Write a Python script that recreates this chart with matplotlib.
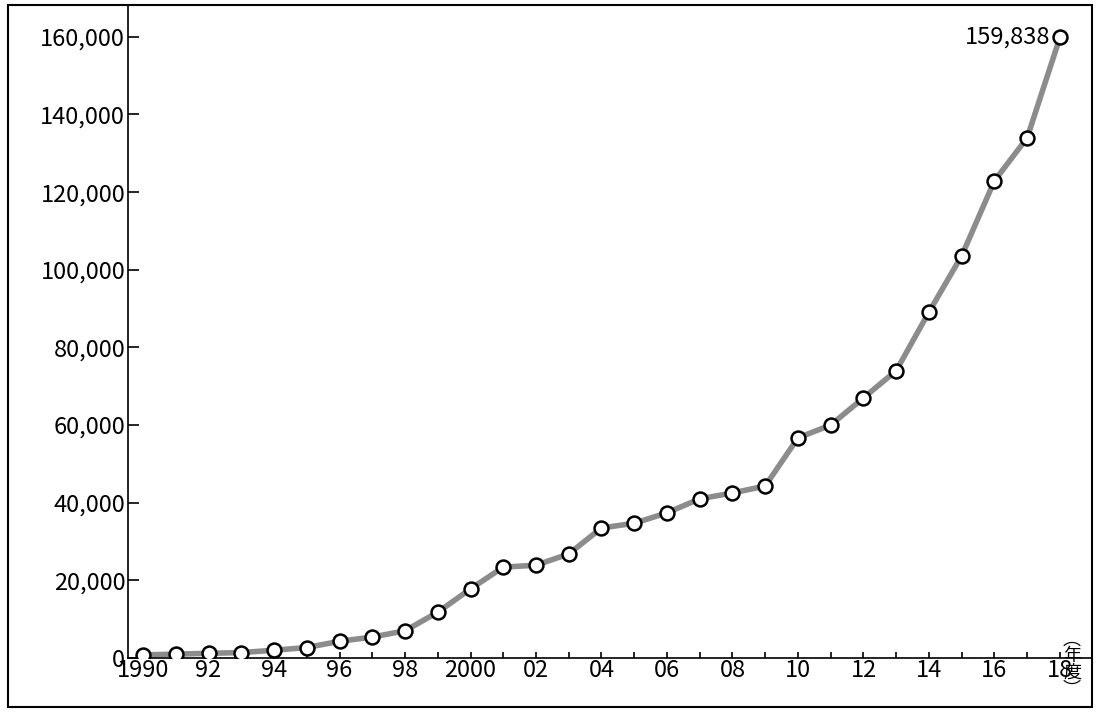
import matplotlib.pyplot as plt
from matplotlib.patches import Rectangle
from matplotlib.ticker import FuncFormatter

plt.rcParams['font.family'] = ['Noto Sans CJK JP', 'DejaVu Sans']

# 年度と値
years = list(range(1990, 2019))
values = [800, 1000, 1200, 1400, 2000, 2700, 4300, 5400, 7000, 11800,
          17800, 23400, 23900, 26800, 33500, 34700, 37400, 41000, 42500, 44300,
          56700, 60000, 67000, 74000, 89100, 103600, 122900, 134000, 159838]
label_years = list(range(1990, 2019, 2))
label_texts = ['1990', '92', '94', '96', '98', '2000', '02', '04', '06', '08',
               '10', '12', '14', '16', '18']

W, H = 1100, 719
fig = plt.figure(figsize=(W / 100, H / 100), dpi=100)
ax = fig.add_axes([128 / W, (H - 658) / H, (1092 - 128) / W, (658 - 5) / H])

ax.plot(years, values, color='#8c8c8c', lw=4, zorder=2)
ax.plot(years, values, 'o', ms=10, mfc='white', mec='black', mew=1.8, zorder=3)

ax.set_xlim(1989.54, 2018.98)
ax.set_ylim(0, 168200)
ax.set_yticks(range(0, 160001, 20000))
ax.yaxis.set_major_formatter(FuncFormatter(lambda v, p: f'{int(v):,}'))
ax.set_xticks(years, minor=True)
ax.set_xticks(label_years)
ax.set_xticklabels(label_texts)
ax.tick_params(axis='y', direction='in', length=8, width=1.2, labelsize=17, pad=2)
ax.tick_params(axis='x', which='both', direction='in', length=4, width=1.2, labelsize=17, pad=1)
for lbl in ax.get_xticklabels()[-1:]:
    lbl.set_x(lbl.get_position()[0])
for s in ['top', 'right']:
    ax.spines[s].set_visible(False)
for s in ['left', 'bottom']:
    ax.spines[s].set_linewidth(1.2)

ax.annotate(f'{values[-1]:,}', (years[-1], values[-1]), xytext=(-7, 0),
            textcoords='offset points', ha='right', va='center', fontsize=17)

# 単位（年度）縦書き
ax.text((1072 - 128) / 964, -0.01, '︵\n年\n度\n︶', transform=ax.transAxes,
        ha='center', va='center', fontsize=13, linespacing=0.9, clip_on=False)

# 外枠
fig.patches.append(Rectangle((8 / W, 1 - 707 / H), 1084 / W, 702 / H,
                             transform=fig.transFigure, fill=False,
                             lw=1.5, ec='black'))

fig.savefig('out.png', dpi=100)
